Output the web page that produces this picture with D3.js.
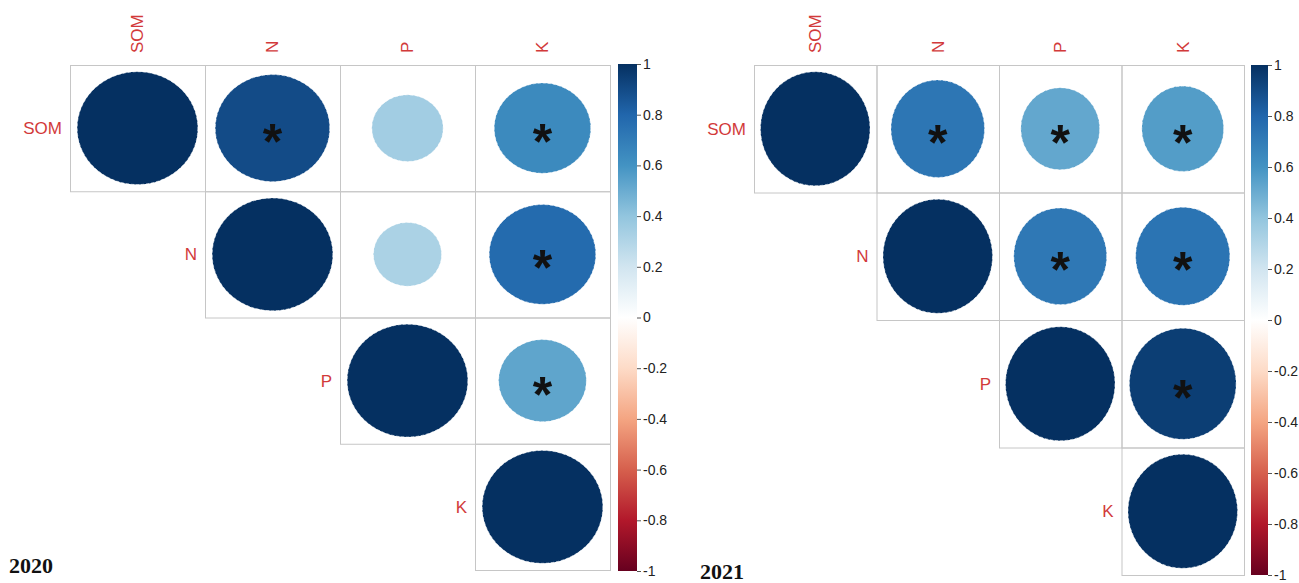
<!DOCTYPE html>
<html>
<head>
<meta charset="utf-8">
<script src="https://cdn.jsdelivr.net/npm/d3@7"></script>
<style>
  html, body { margin: 0; padding: 0; background: #fff; }
  svg { display: block; }
</style>
</head>
<body>
<svg id="chart" width="1299" height="583"></svg>
<script>
// Variables shown on both axes of each matrix
const variables = ["SOM", "N", "P", "K"];

// Pearson correlations, 2020 (upper triangle used)
const corr2020 = [
  [1.00, 0.90, 0.35, 0.64],
  [0.90, 1.00, 0.32, 0.78],
  [0.35, 0.32, 1.00, 0.53],
  [0.64, 0.78, 0.53, 1.00]
];
// Significant pairs (p < 0.05), 2020
const sig2020 = [
  [false, true,  false, true],
  [true,  false, false, true],
  [false, false, false, true],
  [true,  true,  true,  false]
];

// Pearson correlations, 2021
const corr2021 = [
  [1.00, 0.73, 0.52, 0.56],
  [0.73, 1.00, 0.72, 0.74],
  [0.52, 0.72, 1.00, 0.95],
  [0.56, 0.74, 0.95, 1.00]
];
// Significant pairs (p < 0.05), 2021
const sig2021 = [
  [false, true,  true,  true],
  [true,  false, true,  true],
  [true,  true,  false, true],
  [true,  true,  true,  false]
];

const years = ["2020", "2021"];

// Colour bar ticks
const barTicks = [1, 0.8, 0.6, 0.4, 0.2, 0, -0.2, -0.4, -0.6, -0.8, -1];

// Diverging RdBu palette spread evenly over [-1, 1]
const paletteStops = ["#67001F", "#B2182B", "#D6604D", "#F4A582", "#FDDBC7", "#FFFFFF",
                      "#D1E5F0", "#92C5DE", "#4393C3", "#2166AC", "#053061"];
const color = d3.scaleLinear()
  .domain(d3.range(paletteStops.length).map(i => -1 + 2 * i / (paletteStops.length - 1)))
  .range(paletteStops)
  .interpolate(d3.interpolateRgb);

const svg = d3.select("#chart");
const defs = svg.append("defs");

const grad = defs.append("linearGradient")
  .attr("id", "rdbu").attr("x1", 0).attr("y1", 1).attr("x2", 0).attr("y2", 0);
paletteStops.forEach((c, i) => {
  grad.append("stop").attr("offset", i / (paletteStops.length - 1)).attr("stop-color", c);
});

const panels = [
  { corr: corr2020, sig: sig2020, year: years[0],
    x0: 70, x1: 610, y0: 65, y1: 570,
    bar: { x: 618, w: 19, y0: 64, y1: 571 },
    title: { x: 9, y: 573 } },
  { corr: corr2021, sig: sig2021, year: years[1],
    x0: 754, x1: 1244, y0: 65, y1: 575,
    bar: { x: 1251, w: 17, y0: 65, y1: 575 },
    title: { x: 700, y: 579 } }
];

const labelColor = "#d23a3a";
const gridColor = "#c6c6c6";

panels.forEach(p => {
  const g = svg.append("g");
  const x = d3.scaleBand().domain(variables).range([p.x0, p.x1]);
  const y = d3.scaleBand().domain(variables).range([p.y0, p.y1]);
  const bw = x.bandwidth(), bh = y.bandwidth();

  // upper-triangle cells (including diagonal)
  const cells = [];
  variables.forEach((rv, i) => {
    variables.forEach((cv, j) => {
      if (j >= i) cells.push({ row: rv, col: cv, r: p.corr[i][j], sig: p.sig[i][j] });
    });
  });

  g.selectAll("rect.cell").data(cells).join("rect")
    .attr("class", "cell")
    .attr("x", d => x(d.col) + 0.5)
    .attr("y", d => y(d.row) + 0.5)
    .attr("width", bw)
    .attr("height", bh)
    .attr("fill", "none")
    .attr("stroke", gridColor)
    .attr("stroke-width", 1);

  // circle area proportional to |r|
  g.selectAll("ellipse").data(cells).join("ellipse")
    .attr("cx", d => x(d.col) + bw / 2)
    .attr("cy", d => y(d.row) + bh / 2)
    .attr("rx", d => 0.447 * bw * Math.sqrt(Math.abs(d.r)))
    .attr("ry", d => 0.447 * bh * Math.sqrt(Math.abs(d.r)))
    .attr("fill", d => color(d.r))
    .attr("stroke", "#ffffff")
    .attr("stroke-width", 0.6)
    .attr("stroke-dasharray", "3,2");

  // significance markers
  g.selectAll("text.star").data(cells.filter(d => d.sig)).join("text")
    .attr("class", "star")
    .attr("x", d => x(d.col) + bw / 2)
    .attr("y", d => y(d.row) + bh / 2 + 31)
    .attr("text-anchor", "middle")
    .attr("font-family", "Liberation Sans, Arial, sans-serif")
    .attr("font-weight", "bold")
    .attr("font-size", 50)
    .attr("fill", "#111")
    .text("*");

  // column labels (rotated)
  g.selectAll("text.col").data(variables).join("text")
    .attr("class", "col")
    .attr("transform", d => `translate(${x(d) + bw / 2},53) rotate(-90)`)
    .attr("dy", "0.35em")
    .attr("text-anchor", "start")
    .attr("font-family", "Liberation Sans, Arial, sans-serif")
    .attr("font-size", 17)
    .attr("fill", labelColor)
    .text(d => d);

  // row labels, placed at the start of each row's diagonal cell
  g.selectAll("text.row").data(variables).join("text")
    .attr("class", "row")
    .attr("x", d => x(d) - 8)
    .attr("y", d => y(d) + bh / 2)
    .attr("dy", "0.35em")
    .attr("text-anchor", "end")
    .attr("font-family", "Liberation Sans, Arial, sans-serif")
    .attr("font-size", 17)
    .attr("fill", labelColor)
    .text(d => d);

  // colour bar
  const b = p.bar;
  const by = d3.scaleLinear().domain([-1, 1]).range([b.y1, b.y0]);
  g.append("rect")
    .attr("x", b.x).attr("y", b.y0)
    .attr("width", b.w).attr("height", b.y1 - b.y0)
    .attr("fill", "url(#rdbu)");

  const axis = d3.axisRight(by)
    .tickValues(barTicks)
    .tickFormat(d => String(d))
    .tickSize(4)
    .tickPadding(2);
  const ax = g.append("g")
    .attr("transform", `translate(${b.x + b.w},0)`)
    .call(axis);
  ax.select(".domain").remove();
  ax.selectAll(".tick line").attr("stroke", "#555");
  ax.selectAll(".tick text")
    .attr("font-family", "Liberation Sans, Arial, sans-serif")
    .attr("font-size", 14)
    .attr("fill", "#222");

  // year label
  g.append("text")
    .attr("x", p.title.x).attr("y", p.title.y)
    .attr("font-family", "Liberation Serif, Times New Roman, serif")
    .attr("font-weight", "bold")
    .attr("font-size", 22)
    .attr("fill", "#111")
    .text(p.year);
});
</script>
</body>
</html>
